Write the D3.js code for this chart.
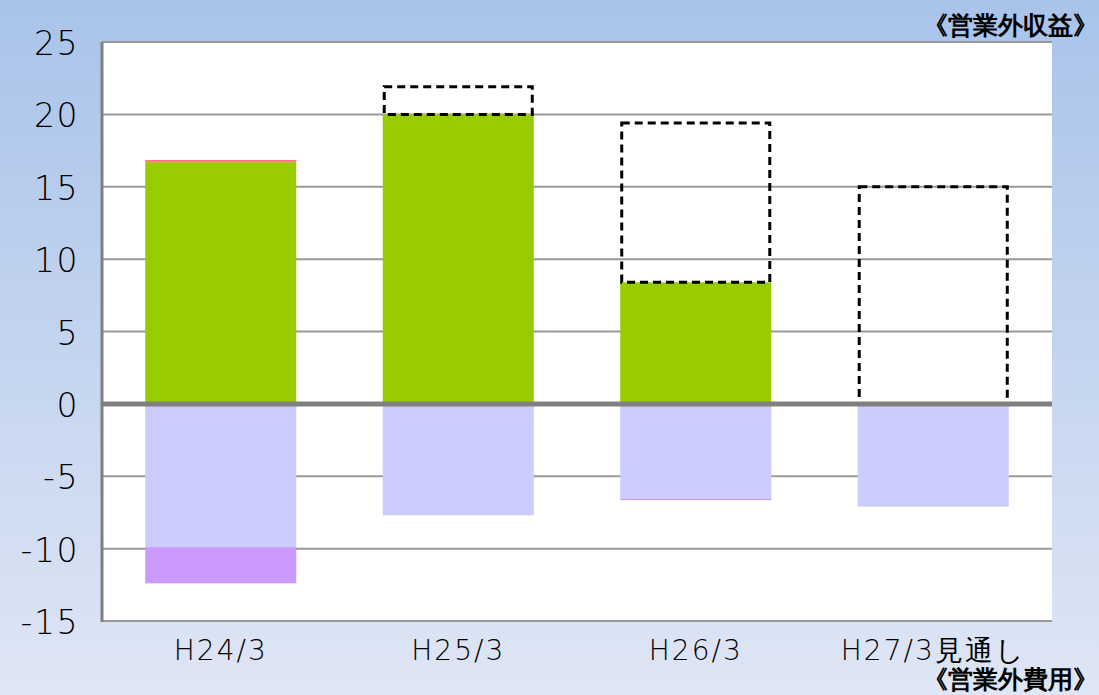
<!DOCTYPE html>
<html>
<head>
<meta charset="utf-8">
<script src="https://cdn.jsdelivr.net/npm/d3@7"></script>
<style>
  body { margin: 0; }
  text { font-family: "DejaVu Sans", sans-serif; }
</style>
</head>
<body>
<script>
// categories and values
var categories = ["H24/3", "H25/3", "H26/3", "H27/3見通し"];
var incomeMain = [16.7, 20.0, 8.4, 0];      // green
var incomeOther = [0.15, 0, 0, 0];          // thin red on top
var incomePlan = [null, 21.9, 19.4, 15.0];  // dashed outline (plan)
var expenseMain = [-9.9, -7.7, -6.55, -7.1]; // light lavender
var expenseOther = [-2.5, 0, -0.1, 0];      // purple below
var yTicks = [-15, -10, -5, 0, 5, 10, 15, 20, 25];

var W = 1099, H = 695;
var svg = d3.select("body").append("svg")
  .attr("width", W).attr("height", H);

// background gradient
var grad = svg.append("defs").append("linearGradient")
  .attr("id", "bg").attr("x1", 0).attr("y1", 0).attr("x2", 0).attr("y2", 1);
grad.append("stop").attr("offset", "0%").attr("stop-color", "#a9c3ea");
grad.append("stop").attr("offset", "100%").attr("stop-color", "#dfe6f5");
svg.append("rect").attr("width", W).attr("height", H).attr("fill", "url(#bg)");

var pL = 102, pR = 1052, pT = 42, pB = 621;

svg.append("rect")
  .attr("x", pL).attr("y", pT)
  .attr("width", pR - pL).attr("height", pB - pT)
  .attr("fill", "#fff");

var x = d3.scaleBand().domain(categories).range([pL, pR]).paddingInner(0.364).paddingOuter(0.182);
var y = d3.scaleLinear().domain([-15, 25]).range([pB, pT]);

// gridlines
svg.selectAll(".grid").data(yTicks.filter(function(d){ return d !== 0; }))
  .enter().append("line")
  .attr("class", "grid")
  .attr("x1", pL).attr("x2", pR)
  .attr("y1", function(d){ return y(d); })
  .attr("y2", function(d){ return y(d); })
  .attr("stroke", "#999").attr("stroke-width", 2);

// y axis tick labels (plain hyphen for negatives)
var yAxis = d3.axisLeft(y).tickValues(yTicks).tickSize(0).tickPadding(23)
  .tickFormat(function(d){ return String(d); });
var gy = svg.append("g").attr("transform", "translate(" + pL + ",0)").call(yAxis);
gy.select(".domain").remove();
gy.selectAll("text").attr("font-size", 33).attr("fill", "#000")
  .attr("font-family", "'DejaVu Sans', sans-serif")
  .attr("font-weight", 200)
  .attr("letter-spacing", 1.5)
  .attr("dy", "0.38em");

// bars
function bars(cls, y0s, y1s, color) {
  svg.selectAll("." + cls).data(categories).enter().append("rect")
    .attr("class", cls)
    .attr("x", function(d){ return x(d); })
    .attr("width", x.bandwidth())
    .attr("y", function(d, i){ return y(Math.max(y0s[i], y1s[i])); })
    .attr("height", function(d, i){ return Math.abs(y(y0s[i]) - y(y1s[i])); })
    .attr("fill", color);
}
var zeros = categories.map(function(){ return 0; });
bars("inc", zeros, incomeMain, "#99cc00");
bars("inc2", incomeMain, incomeMain.map(function(v, i){ return v + incomeOther[i]; }), "#ff7c80");
bars("exp", zeros, expenseMain, "#ccccff");
bars("exp2", expenseMain, expenseMain.map(function(v, i){ return v + expenseOther[i]; }), "#cc99ff");

// dashed plan outlines
svg.selectAll(".plan").data(categories.filter(function(d, i){ return incomePlan[i] !== null; }))
  .enter().append("rect")
  .attr("class", "plan")
  .attr("x", function(d){ return x(d) + 1.5; })
  .attr("width", x.bandwidth() - 3)
  .attr("y", function(d){ return y(incomePlan[categories.indexOf(d)]); })
  .attr("height", function(d){
    var i = categories.indexOf(d);
    return y(incomeMain[i]) - y(incomePlan[i]);
  })
  .attr("fill", "none")
  .attr("stroke", "#000").attr("stroke-width", 3)
  .attr("stroke-dasharray", "8,5");

// zero line
svg.append("line")
  .attr("x1", pL).attr("x2", pR)
  .attr("y1", y(0)).attr("y2", y(0))
  .attr("stroke", "#808080").attr("stroke-width", 5);

// left axis line
svg.append("line")
  .attr("x1", pL).attr("x2", pL)
  .attr("y1", pT).attr("y2", pB + 1)
  .attr("stroke", "#808080").attr("stroke-width", 3);

// category labels
var xAxis = d3.axisBottom(x).tickSize(0).tickPadding(19);
var gx = svg.append("g").attr("transform", "translate(0," + pB + ")").call(xAxis);
gx.select(".domain").remove();
gx.selectAll("text").attr("font-size", 28).attr("fill", "#000")
  .attr("font-family", "'DejaVu Sans', 'Noto Sans CJK JP', sans-serif")
  .attr("font-weight", 200)
  .attr("letter-spacing", 2);

// corner labels
svg.append("text").attr("x", 1098).attr("y", 34)
  .attr("text-anchor", "end").attr("font-size", 25).attr("font-weight", "bold")
  .attr("font-family", "'Noto Sans CJK JP', sans-serif")
  .text("《営業外収益》");
svg.append("text").attr("x", 1098).attr("y", 688)
  .attr("text-anchor", "end").attr("font-size", 25).attr("font-weight", "bold")
  .attr("font-family", "'Noto Sans CJK JP', sans-serif")
  .text("《営業外費用》");
</script>
</body>
</html>
